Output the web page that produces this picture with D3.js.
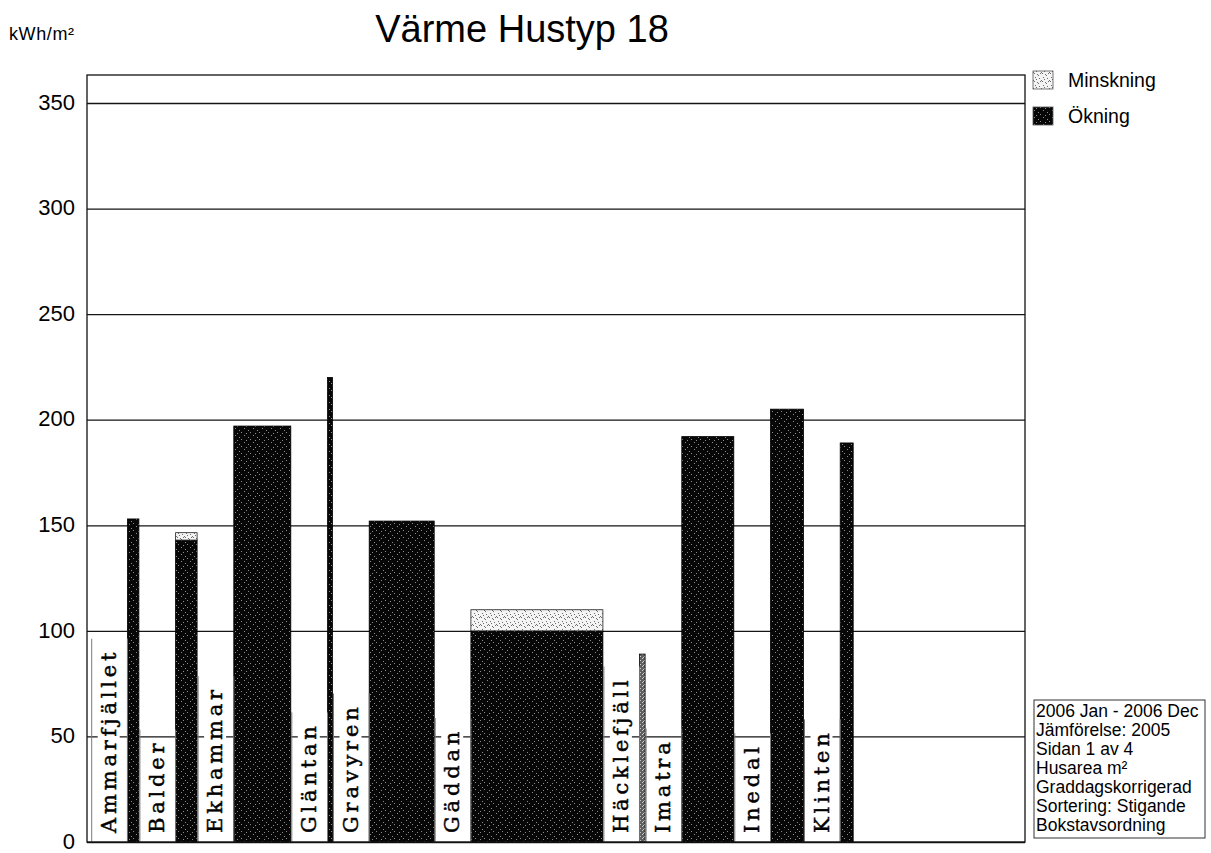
<!DOCTYPE html>
<html>
<head>
<meta charset="utf-8">
<script src="https://cdn.jsdelivr.net/npm/d3@7"></script>
<style>
  body { margin: 0; background: #fff; }
  svg { display: block; font-family: "Liberation Sans", Arial, sans-serif; }
  .house-label { font-family: "DejaVu Serif", "Liberation Serif", serif; }
</style>
</head>
<body>
<div id="chart"></div>
<script>
// values (kWh/m², 2006, graddagskorrigerad)
const houses = ["Ammarfjället", "Balder", "Ekhammar", "Gläntan", "Gravyren", "Gäddan", "Häcklefjäll", "Imatra", "Inedal", "Klinten"];
const varme2006 = [153, 143, 197, 220, 152, 100, 89, 192, 205, 189];
// decrease compared to 2005 (light top part of the bar), 0 = no decrease
const minskning = [0, 3.5, 0, 0, 0, 10, 0, 0, 0, 0];
// house area, sets bar width (estimated, relative)
const husarea = [115, 215, 570, 50, 650, 1320, 55, 520, 330, 130];
const yTicks = [0, 50, 100, 150, 200, 250, 300, 350];
const legendItems = ["Minskning", "Ökning"];
const infoLines = ["2006 Jan - 2006 Dec", "Jämförelse: 2005", "Sidan 1 av 4", "Husarea m²", "Graddagskorrigerad", "Sortering: Stigande", "Bokstavsordning"];

const width = 1211, height = 853;
const plot = { left: 87, right: 1025, top: 75, bottom: 842 };
const labelSlot = 357, slotGap = 10, leadIn = 47;

const svg = d3.select("#chart").append("svg")
  .attr("width", width)
  .attr("height", height);

const defs = svg.append("defs");

function speckle(id, base, dot, w, h, dots) {
  const p = defs.append("pattern")
    .attr("id", id)
    .attr("patternUnits", "userSpaceOnUse")
    .attr("width", w)
    .attr("height", h);
  p.append("rect").attr("width", w).attr("height", h).attr("fill", base);
  dots.forEach(([x, y]) => p.append("rect")
    .attr("x", x).attr("y", y).attr("width", 1).attr("height", 1).attr("fill", dot));
}
speckle("okning", "#070707", "#8c8c8c", 9, 7, [[1, 1], [5, 3], [3, 6], [7, 5]]);
speckle("minsk", "#f4f4f4", "#6e6e6e", 8, 8, [[0, 0], [1, 1], [4, 2], [5, 3], [2, 5], [6, 6], [7, 1], [3, 7]]);
speckle("grey", "#5e5e5e", "#d0d0d0", 4, 4, [[0, 0], [2, 2], [3, 1]]);

// layout along x: each house gets a label slot and a bar as wide as its area
const rows = [];
let cursor = leadIn;
houses.forEach((name, i) => {
  const row = { name, value: varme2006[i], minus: minskning[i], area: husarea[i] };
  row.labelStart = cursor;
  row.barStart = cursor + labelSlot;
  row.barEnd = row.barStart + row.area;
  cursor = row.barEnd + slotGap;
  rows.push(row);
});

const x = d3.scaleLinear()
  .domain([0, (plot.right - plot.left) * 10])
  .range([plot.left, plot.right]);

const yMax = 350 * (plot.bottom - plot.top) / (plot.bottom - 103);
const y = d3.scaleLinear()
  .domain([0, yMax])
  .range([plot.bottom, plot.top]);

// title and unit
svg.append("text")
  .attr("x", 522)
  .attr("y", 42)
  .attr("text-anchor", "middle")
  .attr("font-size", 38)
  .text("Värme Hustyp 18");

svg.append("text")
  .attr("x", 9)
  .attr("y", 40)
  .attr("font-size", 18)
  .attr("letter-spacing", 0.6)
  .text("kWh/m²");

// grid + y labels
const yAxis = svg.append("g")
  .attr("transform", `translate(${plot.left},0)`)
  .call(d3.axisLeft(y)
    .tickValues(yTicks)
    .tickSize(-(plot.right - plot.left))
    .tickPadding(12));
yAxis.select(".domain").remove();
yAxis.selectAll(".tick line")
  .attr("stroke", "#151515")
  .attr("stroke-width", 1.3);
yAxis.selectAll(".tick text")
  .attr("font-size", 22)
  .attr("dy", "0.28em")
  .attr("font-family", "\"Liberation Sans\", Arial, sans-serif")
  .attr("fill", "#000");

// bars
const bars = svg.append("g")
  .selectAll("g")
  .data(rows)
  .join("g");

bars.append("rect")
  .attr("x", d => x(d.barStart))
  .attr("y", d => y(d.value))
  .attr("width", d => x(d.barEnd) - x(d.barStart))
  .attr("height", d => y(0) - y(d.value))
  .attr("fill", d => d.name === "Häcklefjäll" ? "url(#grey)" : "url(#okning)")
  .attr("stroke", "#000")
  .attr("stroke-width", 0.8);

bars.filter(d => d.minus > 0)
  .append("rect")
  .attr("x", d => x(d.barStart))
  .attr("y", d => y(d.value + d.minus))
  .attr("width", d => x(d.barEnd) - x(d.barStart))
  .attr("height", d => y(d.value) - y(d.value + d.minus))
  .attr("fill", "url(#minsk)")
  .attr("stroke", "#222")
  .attr("stroke-width", 0.8);

// rotated house names in thin side-bordered boxes; white backing hides grid lines
const labels = svg.append("g")
  .selectAll("g")
  .data(rows)
  .join("g");

const nameGroups = labels.append("g")
  .attr("transform", d => `translate(${x(d.labelStart) + 24},${plot.bottom - 9}) rotate(-90)`);

nameGroups.append("rect").attr("fill", "#fff");
const names = nameGroups.append("text")
  .attr("class", "house-label")
  .attr("font-size", 21)
  .attr("letter-spacing", 3.8)
  .attr("fill", "#000")
  .attr("stroke", "#000")
  .attr("stroke-width", 0.45)
  .text(d => d.name);

names.each(function (d) {
  const b = this.getBBox();
  d3.select(this.previousSibling)
    .attr("x", b.x - 2)
    .attr("y", b.y + 1)
    .attr("width", b.width + 2)
    .attr("height", b.height - 2);
  d.textTop = plot.bottom - 9 - (b.x + b.width);
});

labels.append("path")
  .attr("d", d => {
    const top = d.textTop - 10;
    const x0 = x(d.labelStart), x1 = x(d.barStart);
    return `M${x0},${plot.bottom}V${top}M${x1},${top}V${plot.bottom}`;
  })
  .attr("fill", "none")
  .attr("stroke", "#7a7a7a")
  .attr("stroke-width", 1);

// plot frame
svg.append("rect")
  .attr("x", plot.left)
  .attr("y", plot.top)
  .attr("width", plot.right - plot.left)
  .attr("height", plot.bottom - plot.top)
  .attr("fill", "none")
  .attr("stroke", "#111")
  .attr("stroke-width", 1.3);

// legend
const legend = svg.append("g")
  .selectAll("g")
  .data(legendItems)
  .join("g")
  .attr("transform", (d, i) => `translate(1033,${80 + i * 36})`);

legend.append("rect")
  .attr("x", 0)
  .attr("y", -9)
  .attr("width", 20)
  .attr("height", 18)
  .attr("fill", d => d === "Minskning" ? "url(#minsk)" : "url(#okning)")
  .attr("stroke", "#555")
  .attr("stroke-width", 0.8);

legend.append("text")
  .attr("x", 35)
  .attr("y", 7)
  .attr("font-size", 19.5)
  .text(d => d);

// info box
const info = svg.append("g").attr("transform", "translate(1034,700)");
info.append("rect")
  .attr("width", 171)
  .attr("height", 138)
  .attr("fill", "#fff")
  .attr("stroke", "#333")
  .attr("stroke-width", 1);
info.selectAll("text")
  .data(infoLines)
  .join("text")
  .attr("x", 2)
  .attr("y", (d, i) => 17 + i * 19)
  .attr("font-size", 17.5)
  .text(d => d);
</script>
</body>
</html>
